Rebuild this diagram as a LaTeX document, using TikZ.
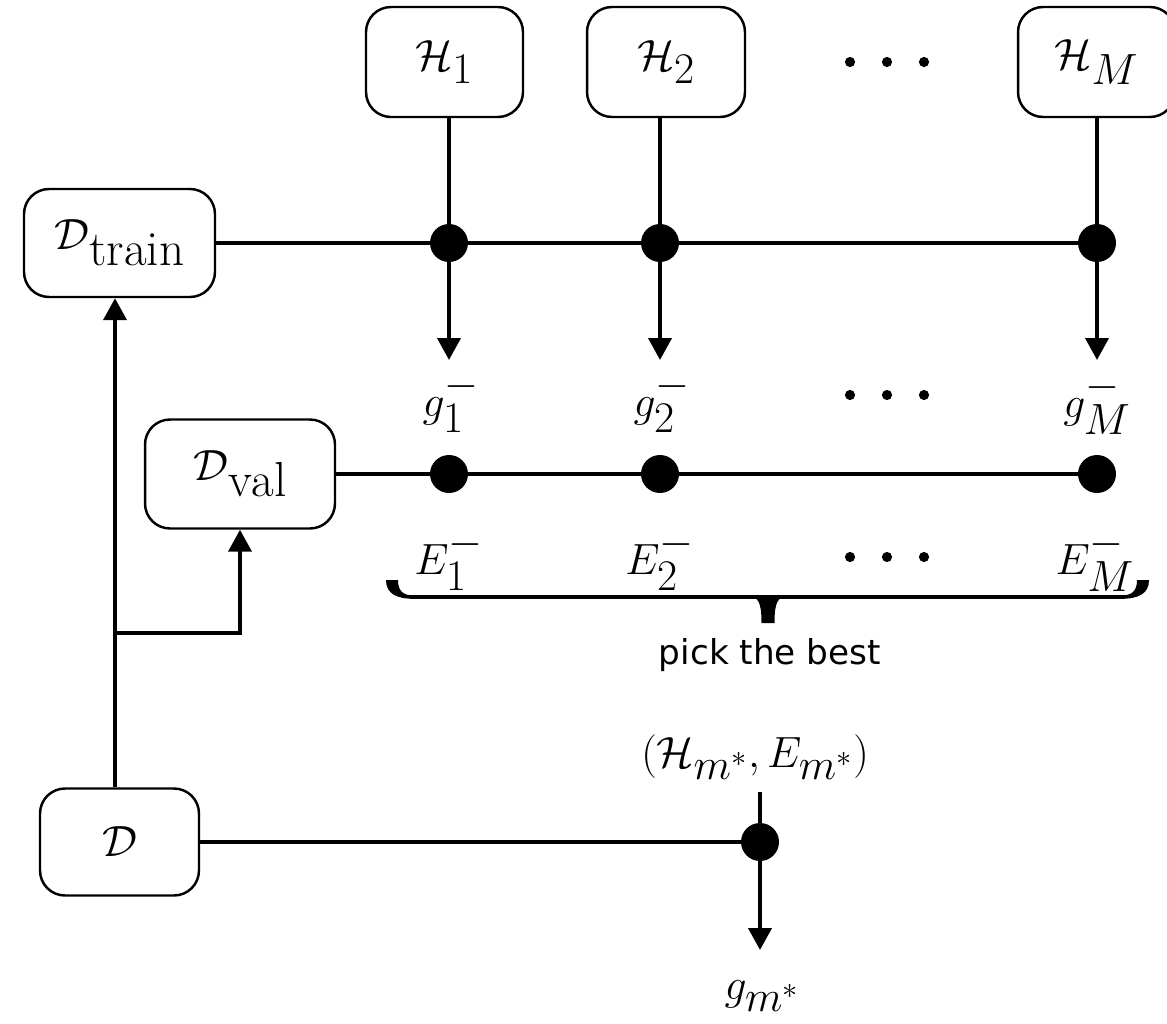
\documentclass[tikz,border=0pt]{standalone}
\usepackage{fontspec}
\setsansfont{DejaVu Sans}
\usetikzlibrary{arrows.meta}
\DeclareMathSizes{30}{30}{23}{18}
\newcommand{\mathsz}{\fontsize{30}{33}\selectfont}
\newcommand{\lowsub}[1]{\raisebox{-9pt}{\fontsize{28}{30}\selectfont$\mathrm{#1}$}}
\begin{document}
\begin{tikzpicture}[x=0.02cm,y=-0.02cm,
  box/.style={draw, line width=1.4pt, rounded corners=0.5cm, inner sep=0pt,
              minimum height=2.2cm, font=\mathsz},
  lbl/.style={inner sep=0pt, font=\mathsz},
  txt/.style={inner sep=0pt, font=\sffamily\fontsize{19.5}{22}\selectfont},
  wire/.style={line width=2.3pt},
  arr/.style={wire, -{Triangle[length=0.44cm,width=0.46cm]}},
  dot/.style={circle, fill, inner sep=0pt, minimum size=0.76cm},
  ell/.style={fill, radius=2.9pt},
]
\clip (0,0) rectangle (1167,1024);

% hypothesis sets
\node[box, minimum width=3.14cm] (h1) at (444.5,62) {$\mathcal{H}_1$};
\node[box, minimum width=3.16cm] (h2) at (666,62) {$\mathcal{H}_2$};
\node[box, minimum width=3.14cm] (hM) at (1096.5,62) {$\mathcal{H}_M$};

% data sets
\node[box, minimum width=3.82cm, minimum height=2.16cm] (dtr) at (119.5,243) {$\mathcal{D}$\lowsub{train}};
\node[box, minimum width=3.8cm, minimum height=2.18cm] (dval) at (240,474) {$\mathcal{D}$\lowsub{val}};
\node[box, minimum width=3.18cm, minimum height=2.14cm] (d) at (119.5,842) {$\mathcal{D}$};

% junctions
\node[dot] (t1) at (449,243) {};
\node[dot] (t2) at (660,243) {};
\node[dot] (tM) at (1097,243) {};
\node[dot] (v1) at (449,474) {};
\node[dot] (v2) at (660,474) {};
\node[dot] (vM) at (1097,474) {};
\node[dot] (s) at (760,842) {};

% labels
\node[lbl] (g1) at (451,402) {$g_1^{-}$};
\node[lbl] (g2) at (662,402) {$g_2^{-}$};
\node[lbl] (gM) at (1097,404) {$g_M^{-}$};
\node[lbl] (e1) at (449,560) {$E_1^{-}$};
\node[lbl] (e2) at (660,560) {$E_2^{-}$};
\node[lbl] (eM) at (1095,561) {$E_M^{-}$};
\node[txt] (pick) at (770,655) {pick the best};
\node[lbl] (sel) at (755,757) {$(\mathcal{H}_{m^*}, E_{m^*})$};
\node[lbl] (gs) at (762,996) {$g_{m^*}$};

% ellipses
\foreach \yy in {62,395,557} {
  \fill[ell] (850,\yy) circle;
  \fill[ell] (887,\yy) circle;
  \fill[ell] (924,\yy) circle;
}

% connector end points
\coordinate (a1) at (449,360);
\coordinate (a2) at (660,360);
\coordinate (aM) at (1097,360);
\coordinate (split) at (115,633);
\coordinate (selfoot) at (760,792);
\coordinate (gtip) at (760,950);

% training row
\draw[wire] (dtr.east) -- (tM.center);
\draw[wire] (h1.south -| t1) -- (t1.center);
\draw[wire] (h2.south -| t2) -- (t2.center);
\draw[wire] (hM.south -| tM) -- (tM.center);
\draw[arr] (t1.center) -- (a1);
\draw[arr] (t2.center) -- (a2);
\draw[arr] (tM.center) -- (aM);

% validation row
\draw[wire] (dval.east) -- (vM.center);

% splitting the data
\draw[arr] (split |- d.north) -- (split |- dtr.south);
\draw[arr] (split) -| (dval.south);

% brace under the validation errors
\draw[line width=2pt] (410,597) -- (1125,597);
\fill (386,580) -- (398,580) .. controls (398,591) and (403,595.5) .. (414,595.5)
      -- (414,598.8) .. controls (397,598.8) and (386,594) .. (386,580) -- cycle;
\fill (1149,580) -- (1137,580) .. controls (1137,591) and (1132,595.5) .. (1121,595.5)
      -- (1121,598.8) .. controls (1138,598.8) and (1149,594) .. (1149,580) -- cycle;
\fill (746,596) .. controls (758,596) and (761.5,601) .. (761.5,623)
      -- (774.5,623) .. controls (774.5,601) and (778,596) .. (790,596) -- cycle;

% selection
\draw[wire] (d.east) -- (s.center);
\draw[wire] (selfoot) -- (s.center);
\draw[arr] (s.center) -- (gtip);
\end{tikzpicture}
\end{document}
